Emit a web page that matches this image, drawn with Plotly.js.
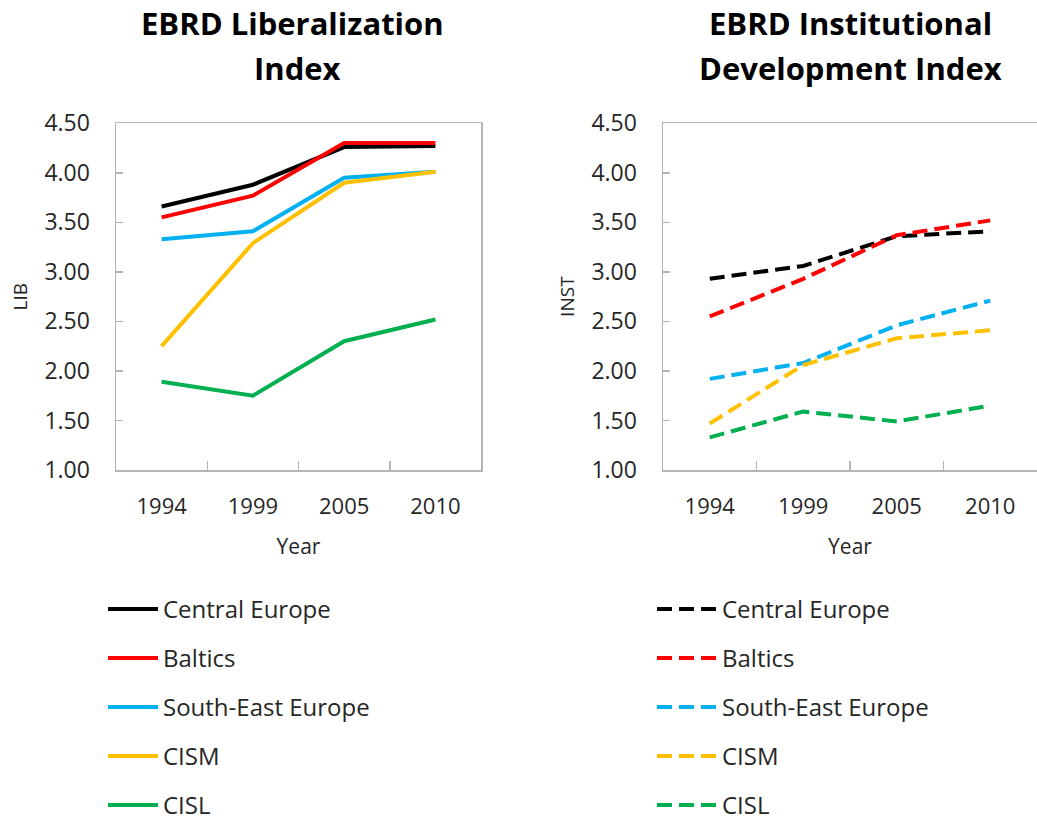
<!DOCTYPE html>
<html>
<head>
<meta charset="utf-8">
<script src="https://cdn.plot.ly/plotly-3.0.1.min.js"></script>
<style>html,body{margin:0;padding:0;background:#fff;}#chart{width:1037px;height:825px;}</style>
</head>
<body>
<div id="chart"></div>
<script>
const years = ["1994", "1999", "2005", "2010"];
const regions = ["Central Europe", "Baltics", "South-East Europe", "CISM", "CISL"];
const colors = ["#000000", "#FF0000", "#00B0F0", "#FFC000", "#00B050"];

// EBRD Liberalization Index (LIB)
const libCentralEurope = [3.66, 3.88, 4.26, 4.27];
const libBaltics       = [3.55, 3.77, 4.30, 4.30];
const libSouthEast     = [3.33, 3.41, 3.95, 4.01];
const libCISM          = [2.25, 3.29, 3.90, 4.01];
const libCISL          = [1.89, 1.75, 2.30, 2.52];

// EBRD Institutional Development Index (INST)
const instCentralEurope = [2.93, 3.06, 3.36, 3.41];
const instBaltics       = [2.55, 2.93, 3.37, 3.52];
const instSouthEast     = [1.92, 2.08, 2.46, 2.71];
const instCISM          = [1.47, 2.06, 2.33, 2.41];
const instCISL          = [1.33, 1.59, 1.49, 1.65];

const yTickVals = [1.0, 1.5, 2.0, 2.5, 3.0, 3.5, 4.0, 4.5];
const yTickText = ["1.00", "1.50", "2.00", "2.50", "3.00", "3.50", "4.00", "4.50"];

const libSeries = [libCentralEurope, libBaltics, libSouthEast, libCISM, libCISL];
const instSeries = [instCentralEurope, instBaltics, instSouthEast, instCISM, instCISL];

const FONT = "Open Sans, sans-serif";
const TXT = "#262626";

const traces = [];
libSeries.forEach((vals, i) => {
  traces.push({
    type: "scatter", mode: "lines", x: years, y: vals, name: regions[i],
    xaxis: "x", yaxis: "y", legend: "legend", legendgroup: "l" + i,
    line: {color: colors[i], width: 4}, hoverinfo: "x+y+name"
  });
});
instSeries.forEach((vals, i) => {
  traces.push({
    type: "scatter", mode: "lines", x: years, y: vals, name: regions[i],
    xaxis: "x2", yaxis: "y2", legend: "legend2", legendgroup: "r" + i,
    line: {color: colors[i], width: 4, dash: "15px,7px"}, hoverinfo: "x+y+name"
  });
});

const W = 1037, H = 825;
const px = v => v / W;
const py = v => (H - v) / H;

function xax(domain, anchor) {
  return {
    domain: domain, anchor: anchor, type: "category", categoryarray: years,
    range: [-0.5, 3.5], showline: true, mirror: true, linecolor: "#b4b4b4", linewidth: 1.5,
    showgrid: false, zeroline: false, ticks: "inside", tickson: "boundaries", ticklen: 9,
    tickcolor: "#b4b4b4", tickwidth: 1.5, ticklabelstandoff: 16,
    tickfont: {family: FONT, size: 22, color: TXT},
    title: {text: "Year", font: {family: FONT, size: 21, color: TXT}, standoff: 20},
    automargin: false, fixedrange: true
  };
}
function yax(domain, anchor, title) {
  return {
    domain: domain, anchor: anchor, range: [1, 4.5], tickvals: yTickVals, ticktext: yTickText,
    showline: true, mirror: true, linecolor: "#b4b4b4", linewidth: 1.5,
    showgrid: false, zeroline: false, ticks: "inside", ticklen: 7,
    tickcolor: "#b4b4b4", tickwidth: 1.5, ticklabelstandoff: 20,
    tickfont: {family: FONT, size: 23, color: TXT},
    title: {text: title, font: {family: FONT, size: 19, color: TXT}, standoff: 11},
    automargin: false, fixedrange: true
  };
}

const yDom = [py(470), py(123.3)];

const layout = {
  width: W, height: H,
  margin: {l: 0, r: 0, t: 0, b: 0, autoexpand: false},
  paper_bgcolor: "#ffffff", plot_bgcolor: "#ffffff",
  showlegend: true,
  xaxis: xax([px(116), px(481)], "y"),
  yaxis: yax(yDom, "x", "LIB"),
  xaxis2: xax([px(663), 1], "y2"),
  yaxis2: yax(yDom, "x2", "INST"),
  legend: {
    x: px(103), y: py(828), xanchor: "left", yanchor: "bottom",
    traceorder: "grouped", tracegroupgap: 14.8, itemwidth: 50,
    font: {family: FONT, size: 24, color: TXT}, bgcolor: "rgba(0,0,0,0)", borderwidth: 0
  },
  legend2: {
    x: px(652), y: py(828), xanchor: "left", yanchor: "bottom",
    traceorder: "grouped", tracegroupgap: 14.8, itemwidth: 60,
    font: {family: FONT, size: 24, color: TXT}, bgcolor: "rgba(0,0,0,0)", borderwidth: 0
  },
  annotations: [
    {text: "<b>EBRD Liberalization</b>", x: px(292), y: py(23), xref: "paper", yref: "paper",
     xanchor: "center", yanchor: "middle", showarrow: false, font: {family: FONT, size: 31, color: "#000"}},
    {text: "<b>Index</b>", x: px(297), y: py(68), xref: "paper", yref: "paper",
     xanchor: "center", yanchor: "middle", showarrow: false, font: {family: FONT, size: 31, color: "#000"}},
    {text: "<b>EBRD Institutional</b>", x: px(850), y: py(23), xref: "paper", yref: "paper",
     xanchor: "center", yanchor: "middle", showarrow: false, font: {family: FONT, size: 31, color: "#000"}},
    {text: "<b>Development Index</b>", x: px(850), y: py(68), xref: "paper", yref: "paper",
     xanchor: "center", yanchor: "middle", showarrow: false, font: {family: FONT, size: 31, color: "#000"}}
  ]
};

Plotly.newPlot("chart", traces, layout, {displayModeBar: false, staticPlot: true});
</script>
</body>
</html>
